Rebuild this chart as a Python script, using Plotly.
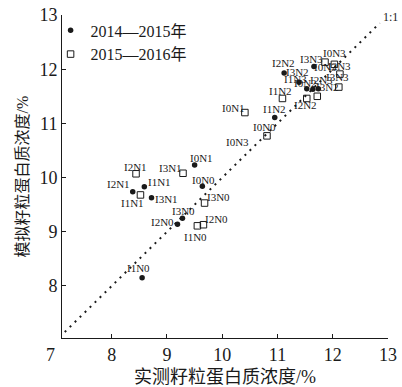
import plotly.graph_objects as go

# 2014-2015 (filled dots): measured, simulated
obs_1415 = [9.50, 8.59, 8.38, 8.72, 9.64, 9.28, 9.19, 8.55,
            11.12, 11.39, 11.66, 11.53, 11.64, 11.74, 10.95]
sim_1415 = [10.23, 9.83, 9.74, 9.63, 9.84, 9.25, 9.14, 8.15,
            11.93, 11.76, 12.05, 11.64, 11.63, 11.64, 11.11]

# 2015-2016 (open squares)
obs_1516 = [8.44, 9.29, 8.52, 9.68, 9.66, 9.55, 10.41, 10.81,
            11.86, 12.03, 12.13, 12.11, 11.72, 11.53, 11.09]
sim_1516 = [10.07, 10.08, 9.68, 9.53, 9.13, 9.11, 11.20, 10.77,
            12.13, 12.09, 11.91, 11.67, 11.50, 11.46, 11.46]

# treatment labels
label_text = ["I0N1", "I2N1", "I3N1", "I2N1", "I1N1", "I1N1", "I3N1", "I0N0",
              "I3N0", "I3N0", "I2N0", "I2N0", "I1N0", "I1N0",
              "I0N3", "I3N3", "I2N2", "I0N3", "I2N3", "I3N2", "I3N3", "I1N3",
              "I0N2", "I2N3", "I3N2", "I1N2", "I2N2", "I1N2", "I0N0", "I0N1", "I0N3"]
label_x = [9.63, 8.43, 9.06, 8.13, 8.87, 8.37, 9.00, 9.66,
           9.93, 9.30, 9.90, 8.91, 9.51, 8.49,
           12.04, 11.62, 11.10, 11.86, 12.13, 11.37, 12.09, 11.33,
           11.50, 11.80, 11.91, 11.05, 11.50, 10.94, 10.77, 10.20, 10.27]
label_y = [10.36, 10.20, 10.18, 9.88, 9.91, 9.53, 9.60, 9.96,
           9.64, 9.38, 9.24, 9.18, 8.90, 8.33,
           12.30, 12.19, 12.11, 12.04, 12.06, 11.95, 11.86, 11.82,
           11.75, 11.80, 11.67, 11.60, 11.34, 11.27, 10.93, 11.28, 10.66]

one_to_one = [7.15, 12.85]
tick_vals = [8, 9, 10, 11, 12, 13]

serif = "Liberation Serif, Noto Sans CJK SC, serif"
ink = "#1a1a1a"

fig = go.Figure()
fig.add_trace(go.Scatter(x=one_to_one, y=one_to_one, mode="lines",
                         line=dict(color=ink, width=2, dash="2px,5px"),
                         showlegend=False, hoverinfo="skip"))
fig.add_trace(go.Scatter(x=obs_1415, y=sim_1415, mode="markers", name="2014—2015年",
                         marker=dict(symbol="circle", size=5.5, color=ink)))
fig.add_trace(go.Scatter(x=obs_1516, y=sim_1516, mode="markers", name="2015—2016年",
                         marker=dict(symbol="square-open", size=6.5, color=ink,
                                     line=dict(width=1, color=ink))))

for t, x, y in zip(label_text, label_x, label_y):
    fig.add_annotation(x=x, y=y, text=t, showarrow=False,
                       font=dict(family=serif, size=11, color=ink))

fig.add_annotation(x=12.87, y=12.96, text="1:1", showarrow=False, xanchor="left",
                   font=dict(family=serif, size=12, color=ink))
fig.add_annotation(xref="paper", yref="paper", x=-0.015, y=-0.015, text="7",
                   showarrow=False, xanchor="right", yanchor="top",
                   font=dict(family=serif, size=18, color=ink))

axis_common = dict(showline=True, linecolor=ink, linewidth=1, ticks="inside",
                   ticklen=4, tickcolor=ink, showgrid=False, zeroline=False,
                   ticklabeloverflow="allow", automargin=False,
                   tickvals=tick_vals, tickfont=dict(family=serif, size=18, color=ink))

fig.update_xaxes(range=[7.1, 13], title=dict(text="实测籽粒蛋白质浓度/%", standoff=7,
                 font=dict(family=serif, size=18, color=ink)), **axis_common)
fig.update_yaxes(range=[7.04, 13], title=dict(text="模拟籽粒蛋白质浓度/%", standoff=6,
                 font=dict(family=serif, size=16, color=ink)), **axis_common)

fig.update_layout(
    width=402, height=387,
    margin=dict(l=62, r=14, t=15, b=49, autoexpand=False),
    paper_bgcolor="white", plot_bgcolor="white",
    legend=dict(x=-0.035, y=1.005, xanchor="left", yanchor="top",
                font=dict(family=serif, size=16, color=ink),
                bgcolor="rgba(0,0,0,0)", itemwidth=30, tracegroupgap=0),
)

fig.write_html("out.html",
               config={"displayModeBar": False},
               post_script="document.body.style.margin='0';"
                           "document.body.style.overflow='hidden';")
